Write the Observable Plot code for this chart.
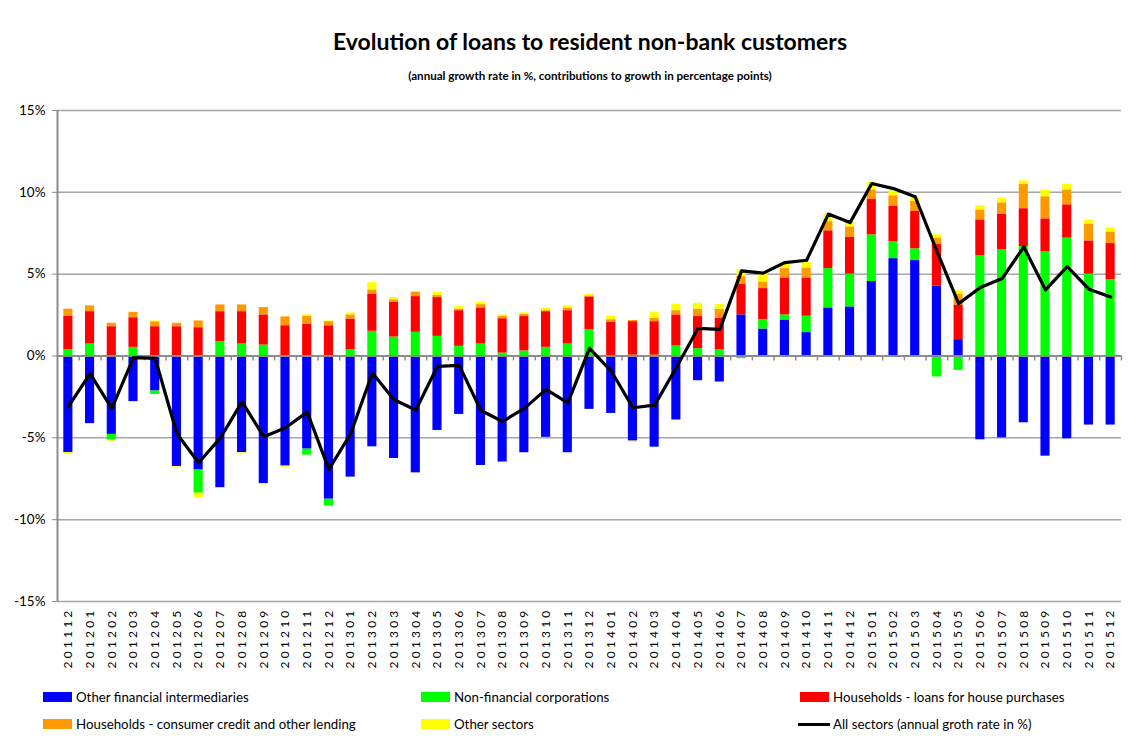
<!DOCTYPE html>
<html>
<head>
<meta charset="utf-8">
<script src="https://cdn.jsdelivr.net/npm/d3@7"></script>
<script src="https://cdn.jsdelivr.net/npm/@observablehq/plot@0.6"></script>
<style>
  html, body { margin: 0; padding: 0; background: #fff; }
  #wrap { position: relative; width: 1128px; height: 742px; overflow: hidden; font-family: Lato, "Open Sans", sans-serif; color: #000; }
  #title { position: absolute; left: 0; width: 1180px; top: 27px; text-align: center; font-weight: bold; font-size: 23px; }
  #subtitle { position: absolute; left: 0; width: 1180px; top: 69px; text-align: center; font-weight: bold; font-size: 11.6px; }
  #chart { position: absolute; left: 0; top: 95px; }
  .leg { position: absolute; display: flex; align-items: center; font-size: 13.3px; white-space: nowrap; }
  .sw { display: inline-block; width: 29px; height: 10px; margin-right: 4px; }
  .ln { display: inline-block; width: 32px; height: 3px; background: #000; margin-right: 3px; }
  #chart svg g[aria-label="x-axis tick label"] text { letter-spacing: 3.2px; }
</style>
</head>
<body>
<div id="wrap">
  <div id="title">Evolution of loans to resident non-bank customers</div>
  <div id="subtitle">(annual growth rate in %, contributions to growth in percentage points)</div>
  <div id="chart"></div>
  <div id="legend"></div>
</div>
<script>
const months = ["201112","201201","201202","201203","201204","201205","201206","201207","201208","201209","201210","201211","201212",
  "201301","201302","201303","201304","201305","201306","201307","201308","201309","201310","201311","201312",
  "201401","201402","201403","201404","201405","201406","201407","201408","201409","201410","201411","201412",
  "201501","201502","201503","201504","201505","201506","201507","201508","201509","201510","201511","201512"];

const otherFinancial = [-5.9,-4.14,-4.79,-2.79,-2.14,-6.75,-6.97,-8.05,-5.91,-7.79,-6.73,-5.69,-8.75,
  -7.4,-5.55,-6.26,-7.14,-4.55,-3.57,-6.69,-6.48,-5.91,-4.97,-5.91,-3.26,
  -3.51,-5.2,-5.57,-3.91,-1.51,-1.59,2.51,1.65,2.2,1.43,2.94,3.0,
  4.55,5.95,5.83,4.26,1.0,-5.12,-5.0,-4.08,-6.12,-5.06,-4.22,-4.22];
const nonFinancial = [0.37,0.73,-0.35,0.53,-0.21,0.02,-1.41,0.88,0.73,0.67,0.02,-0.37,-0.42,
  0.37,1.51,1.16,1.45,1.2,0.59,0.73,0.18,0.31,0.53,0.73,1.59,
  0.02,0.05,0.05,0.61,0.45,0.37,-0.16,0.57,0.31,1.0,2.4,2.0,
  2.85,1.02,0.72,-1.28,-0.88,6.12,6.48,6.69,6.36,7.2,5.0,4.65];
const housePurchases = [2.06,1.98,1.79,1.81,1.79,1.77,1.73,1.83,1.98,1.84,1.83,1.94,1.85,
  1.89,2.28,2.12,2.18,2.37,2.18,2.21,2.1,2.1,2.18,2.04,2.02,
  2.06,2.05,2.05,1.9,1.96,1.95,1.89,1.9,2.26,2.34,2.31,2.24,
  2.16,2.19,2.28,2.55,2.12,2.2,2.17,2.31,2.02,2.04,2.03,2.22];
const consumerCredit = [0.43,0.35,0.21,0.33,0.3,0.21,0.41,0.41,0.41,0.45,0.54,0.49,0.25,
  0.25,0.25,0.16,0.28,0.13,0.1,0.2,0.15,0.14,0.06,0.17,0.06,
  0.14,0.07,0.2,0.26,0.44,0.53,0.47,0.41,0.57,0.61,0.56,0.65,
  0.59,0.63,0.61,0.37,0.65,0.61,0.71,1.48,1.35,0.91,1.04,0.71];
const otherSectors = [-0.12,-0.05,-0.06,-0.05,0.05,-0.05,-0.29,-0.04,-0.05,-0.08,-0.07,0.08,0.04,
  0.12,0.44,0.13,0.03,0.21,0.15,0.14,0.08,0.08,0.14,0.12,0.1,
  0.21,-0.08,0.35,0.39,0.37,0.29,0.39,0.47,0.27,0.33,0.46,0.26,
  0.45,0.3,0.21,0.22,0.21,0.24,0.29,0.22,0.4,0.35,0.23,0.23];
const allSectors = [-3.1,-1.08,-3.2,-0.1,-0.15,-4.75,-6.52,-5.0,-2.8,-4.93,-4.38,-3.43,-6.93,
  -4.75,-1.04,-2.67,-3.3,-0.63,-0.57,-3.33,-4.0,-3.2,-2.04,-2.86,0.47,
  -0.92,-3.16,-3.0,-0.7,1.69,1.63,5.2,5.06,5.71,5.85,8.67,8.15,
  10.54,10.23,9.73,6.4,3.2,4.18,4.73,6.67,4.04,5.46,4.08,3.61];

const seriesNames = ["Other financial intermediaries","Non-financial corporations","Households - loans for house purchases",
  "Households - consumer credit and other lending","Other sectors"];
const seriesColors = ["#0000FF","#00FF00","#FF0000","#FF9900","#FFFF00"];
const seriesValues = [otherFinancial, nonFinancial, housePurchases, consumerCredit, otherSectors];
const lineName = "All sectors (annual groth rate in %)";
const yTicks = [-15,-10,-5,0,5,10,15];

const data = months.flatMap((m, i) => seriesNames.map((s, k) => ({month: m, series: s, value: seriesValues[k][i]})));
const lineData = months.map((m, i) => ({month: m, value: allSectors[i]}));

const W = 1128, H = 590, ML = 57, MR = 7, MT = 15, MB = 84;
const step = (W - ML - MR) / months.length;

const chart = Plot.plot({
  width: W, height: H,
  marginLeft: ML, marginRight: MR, marginTop: MT, marginBottom: MB,
  style: {fontFamily: "Lato, 'Open Sans', sans-serif", fontSize: "12.5px", color: "#000", background: "transparent"},
  x: {domain: months, paddingInner: 0.58, paddingOuter: 0.29, label: null},
  y: {domain: [-15, 15], label: null},
  color: {domain: seriesNames, range: seriesColors},
  marks: [
    Plot.ruleY(yTicks.filter(d => d !== 0), {stroke: "#a6a6a6", strokeWidth: 1.5}),
    Plot.barY(data, {x: "month", y: "value", fill: "series"}),
    Plot.ruleY([0], {stroke: "#8c8c8c", strokeWidth: 2}),
    Plot.ruleX(months, {x: d => d, y1: 0, y2: -0.3, dx: step / 2, stroke: "#8c8c8c", strokeWidth: 1.5}),
    Plot.ruleX([months[0]], {x: d => d, y1: -15, y2: 15, dx: -step / 2, stroke: "#8c8c8c", strokeWidth: 2}),
    Plot.line(lineData, {x: "month", y: "value", stroke: "#000", strokeWidth: 3.2}),
    Plot.axisY({ticks: yTicks, tickFormat: d => d + "%", tickSize: 5, tickPadding: 7, stroke: "#8c8c8c", fontSize: 13.5}),
    Plot.axisX({tickSize: 0, tickPadding: 6, tickRotate: -90, fontSize: 12})
  ]
});
document.getElementById("chart").appendChild(chart);

// legend
const legend = document.getElementById("legend");
const legItems = [
  {label: seriesNames[0], color: seriesColors[0], left: 43, top: 689},
  {label: seriesNames[1], color: seriesColors[1], left: 421, top: 689},
  {label: seriesNames[2], color: seriesColors[2], left: 800, top: 689},
  {label: seriesNames[3], color: seriesColors[3], left: 43, top: 716},
  {label: seriesNames[4], color: seriesColors[4], left: 421, top: 716},
  {label: lineName, color: null, left: 798, top: 716}
];
for (const it of legItems) {
  const d = document.createElement("div");
  d.className = "leg";
  d.style.left = it.left + "px";
  d.style.top = it.top + "px";
  const s = document.createElement("span");
  s.className = it.color ? "sw" : "ln";
  if (it.color) s.style.background = it.color;
  d.appendChild(s);
  d.appendChild(document.createTextNode(it.label));
  legend.appendChild(d);
}
</script>
</body>
</html>
